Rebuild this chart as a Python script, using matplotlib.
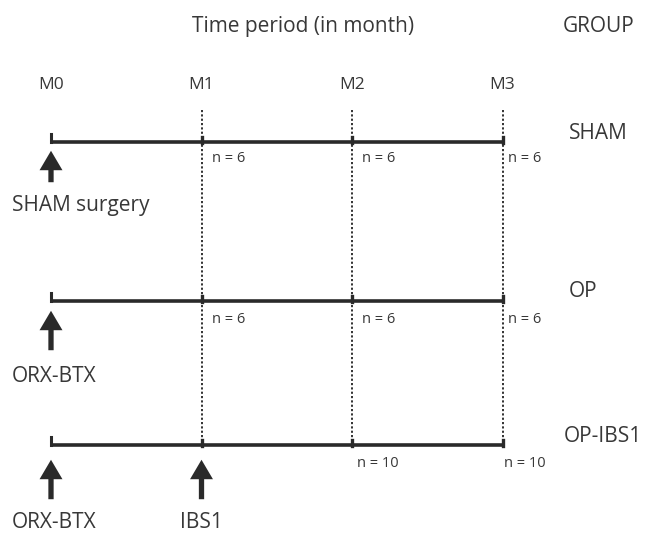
import matplotlib
matplotlib.use("Agg")
import matplotlib.pyplot as plt
from matplotlib.patches import FancyArrowPatch

# ---- data ----
months = [0, 1, 2, 3]
month_labels = ["M0", "M1", "M2", "M3"]
groups = ["SHAM", "OP", "OP-IBS1"]
group_rows = [142, 301, 445]          # vertical layout position of each timeline (px)
n_sham = [None, 6, 6, 6]
n_op = [None, 6, 6, 6]
n_opibs = [None, None, 10, 10]
n_values = [n_sham, n_op, n_opibs]
events = [  # (group index, month, label)
    (0, 0, "SHAM surgery"),
    (1, 0, "ORX-BTX"),
    (2, 0, "ORX-BTX"),
    (2, 1, "IBS1"),
]

TXT = "#383838"
LINE = "#2a2a2a"
plt.rcParams['font.family'] = ['Open Sans', 'DejaVu Sans']

fig = plt.figure(figsize=(6.49, 5.34), dpi=100)
ax = fig.add_axes([0, 0, 1, 1])
x0, dx = 51, 150.5
ax.set_xlim(-x0 / dx, (649 - x0) / dx)
ax.set_ylim(534, 0)
ax.axis("off")

def px(p):
    return p / dx

BIG = 15
# header
ax.text(px(303 - x0), 32, "Time period (in month)", ha="center", va="baseline",
        fontsize=BIG, color=TXT)
ax.text(px(599 - x0), 32, "GROUP", ha="center", va="baseline", fontsize=BIG, color=TXT)
for m, lab in zip(months, month_labels):
    ax.text(m, 89, lab, ha="center", va="baseline", fontsize=12.5, color=TXT)

# dotted verticals
for m in months[1:]:
    ax.plot([m, m], [110, group_rows[-1]], color="#222222", lw=1.3,
            linestyle=(0, (1.2, 1.2)), zorder=1)

# timelines
label_cx = [598, 583, 603]
label_base = [139, 297, 442]
n_base = [162, 323, 467]
n_off = [[0, 10, 10, 5], [0, 10, 10, 5], [0, 0, 5, 1]]
for gi, (g, yr) in enumerate(zip(groups, group_rows)):
    ax.plot([months[0], months[-1]], [yr, yr], color=LINE, lw=2.6,
            solid_capstyle="butt", zorder=3)
    ax.plot([months[0], months[0]], [yr, yr - 8], color=LINE, lw=2.2, zorder=3)
    for m in months[1:]:
        ax.plot([m, m], [yr + 1, yr - 5], color=LINE, lw=2.4, zorder=3)
    ax.text(px(label_cx[gi] - x0), label_base[gi], g, ha="center", va="baseline",
            fontsize=BIG, color=TXT)
    for m, n in zip(months, n_values[gi]):
        if n is None:
            continue
        ax.text(m + px(n_off[gi][m]), n_base[gi], f"n = {n}", ha="left",
                va="baseline", fontsize=10.5, color=TXT)

# event arrows
arrow_tip = {0: 148, 1: 308, 2: 457}
arrow_bottom = {0: 185, 1: 353, 2: 502}
text_base = {0: 211, 1: 382, 2: 528}
for gi, m, lab in events:
    arr = FancyArrowPatch((m, arrow_bottom[gi]), (m, arrow_tip[gi]),
                          arrowstyle="simple,head_length=14,head_width=16.5,tail_width=3.8",
                          mutation_scale=1, color=LINE, lw=0, zorder=4)
    ax.add_patch(arr)
    if lab == "IBS1":
        ax.text(m, text_base[gi], lab, ha="center", va="baseline", fontsize=BIG, color=TXT)
    else:
        ax.text(px(12 - x0), text_base[gi], lab, ha="left", va="baseline",
                fontsize=BIG, color=TXT)

fig.savefig("out.png", dpi=100)
